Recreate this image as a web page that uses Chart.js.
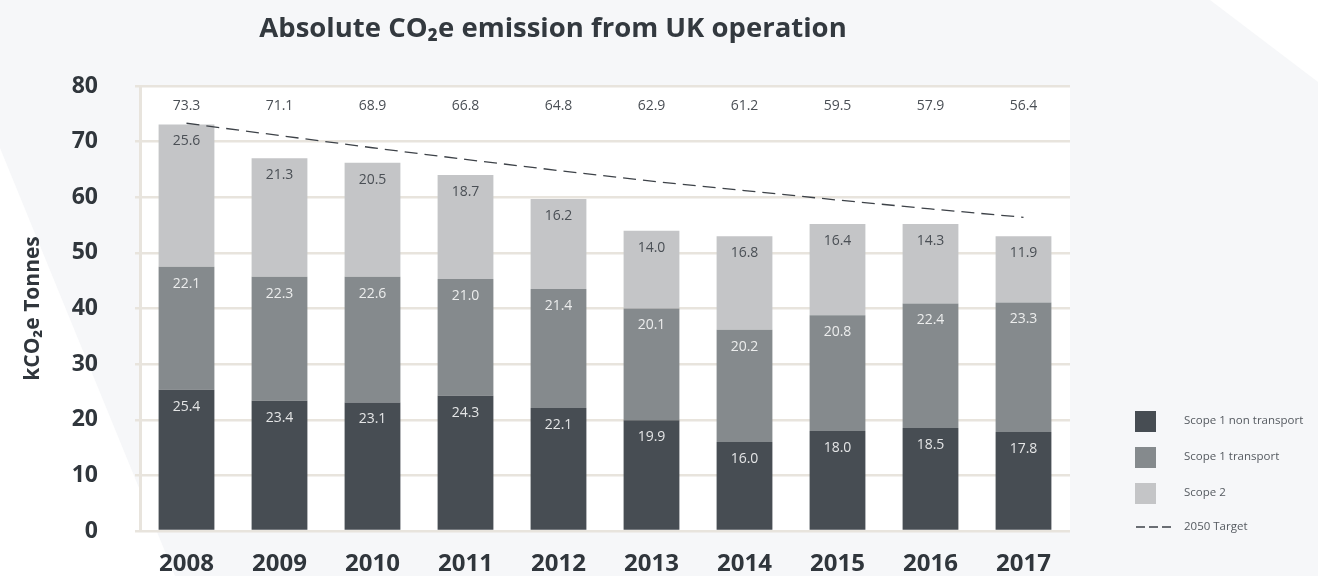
<!DOCTYPE html>
<html>
<head>
<meta charset="utf-8">
<script src="https://cdn.jsdelivr.net/npm/chart.js@4.4.1/dist/chart.umd.min.js"></script>
<style>
  html, body { margin: 0; padding: 0; background: #f6f7f9; overflow: hidden; }
  canvas { display: block; }
</style>
</head>
<body>
<canvas id="chart" width="1318" height="576"></canvas>
<script>
const years = ["2008", "2009", "2010", "2011", "2012", "2013", "2014", "2015", "2016", "2017"];
const nonTransport = [25.4, 23.4, 23.1, 24.3, 22.1, 19.9, 16.0, 18.0, 18.5, 17.8];
const transport = [22.1, 22.3, 22.6, 21.0, 21.4, 20.1, 20.2, 20.8, 22.4, 23.3];
const scope2 = [25.6, 21.3, 20.5, 18.7, 16.2, 14.0, 16.8, 16.4, 14.3, 11.9];
const target = [73.3, 71.1, 68.9, 66.8, 64.8, 62.9, 61.2, 59.5, 57.9, 56.4];
const yTicks = [0, 10, 20, 30, 40, 50, 60, 70, 80];

const FONT = "'Open Sans', 'Noto Sans', sans-serif";
const GRID = "#e8e4dd";

// page background with the pale diagonal panels + white plot area
const backdrop = {
  id: "backdrop",
  beforeDraw(chart) {
    const { ctx, width, height, chartArea: a } = chart;
    ctx.save();
    ctx.fillStyle = "#f6f7f9";
    ctx.fillRect(0, 0, width, height);
    ctx.fillStyle = "#ffffff";
    ctx.beginPath();
    ctx.moveTo(0, 148);
    ctx.lineTo(175, height);
    ctx.lineTo(0, height);
    ctx.closePath();
    ctx.fill();
    ctx.beginPath();
    ctx.moveTo(1210, 0);
    ctx.lineTo(width, 0);
    ctx.lineTo(width, 82);
    ctx.closePath();
    ctx.fill();
    ctx.fillRect(a.left, a.top, a.right - a.left, a.bottom - a.top);
    ctx.restore();
  },
};

// title, value labels and legend
const annotate = {
  id: "annotate",
  afterDatasetsDraw(chart) {
    const { ctx, chartArea: a } = chart;
    ctx.save();
    ctx.textAlign = "center";
    ctx.textBaseline = "middle";
    ctx.font = "14px " + FONT;
    chart.data.datasets.forEach((ds, i) => {
      const meta = chart.getDatasetMeta(i);
      if (ds.type === "line") {
        ctx.fillStyle = "#4a4f55";
        meta.data.forEach((pt, j) => {
          ctx.fillText(ds.data[j].toFixed(1), pt.x, a.top + 20);
        });
        return;
      }
      ctx.fillStyle = ds.labelColor;
      meta.data.forEach((bar, j) => {
        ctx.fillText(ds.data[j].toFixed(1), bar.x, bar.y + 17);
      });
    });
    ctx.restore();
  },
  afterDraw(chart) {
    const { ctx, chartArea: a } = chart;
    ctx.save();

    // title
    ctx.fillStyle = "#33393f";
    ctx.textAlign = "center";
    ctx.textBaseline = "middle";
    ctx.font = "bold 27.5px " + FONT;
    ctx.fillText("Absolute CO₂e emission from UK operation", 553, 29);

    // legend
    const lx = a.right + 65;
    let ly = a.bottom - 120;
    ctx.textAlign = "left";
    ctx.font = "11.5px " + FONT;
    chart.data.datasets.forEach((ds) => {
      if (ds.type === "line") {
        const y = ly + 8;
        ctx.strokeStyle = ds.borderColor;
        ctx.lineWidth = 1.3;
        ctx.setLineDash([9, 4]);
        ctx.beginPath();
        ctx.moveTo(lx + 1, y);
        ctx.lineTo(lx + 36, y);
        ctx.stroke();
        ctx.setLineDash([]);
        ctx.fillStyle = "#555a60";
        ctx.fillText(ds.label, lx + 49, y);
      } else {
        ctx.fillStyle = ds.backgroundColor;
        ctx.fillRect(lx, ly, 21, 21);
        ctx.fillStyle = "#555a60";
        ctx.fillText(ds.label, lx + 49, ly + 10);
        ly += 36;
      }
    });
    ctx.restore();
  },
};

new Chart(document.getElementById("chart").getContext("2d"), {
  type: "bar",
  data: {
    labels: years,
    datasets: [
      { label: "Scope 1 non transport", data: nonTransport, backgroundColor: "#474d53", labelColor: "#e4e5e6", order: 1 },
      { label: "Scope 1 transport", data: transport, backgroundColor: "#858a8d", labelColor: "#eceded", order: 1 },
      { label: "Scope 2", data: scope2, backgroundColor: "#c4c5c7", labelColor: "#4a4f55", order: 1 },
      {
        label: "2050 Target",
        type: "line",
        data: target,
        borderColor: "#3d4248",
        borderWidth: 1.3,
        borderDash: [13, 7],
        pointRadius: 0,
        fill: false,
        order: 0,
      },
    ],
  },
  options: {
    responsive: false,
    animation: false,
    datasets: { bar: { categoryPercentage: 1, barPercentage: 0.6 } },
    layout: { padding: { top: 86, right: 248, bottom: 0, left: 0 } },
    plugins: { legend: { display: false }, title: { display: false }, tooltip: { enabled: false } },
    scales: {
      x: {
        stacked: true,
        grid: { display: false },
        border: { display: false },
        ticks: { color: "#30363c", font: { family: FONT, size: 24, weight: "bold" }, padding: 11, maxRotation: 0 },
        afterFit: (s) => { s.height = 45; },
      },
      y: {
        stacked: true,
        min: 0,
        max: 80,
        afterBuildTicks: (s) => { s.ticks = yTicks.map((v) => ({ value: v })); },
        afterFit: (s) => {
          s.width = 140;
          // tick padding would otherwise push the plot bottom up
          s.paddingTop = 14;
          s.paddingBottom = 14;
        },
        grid: { color: GRID, lineWidth: 2.5, tickLength: 5 },
        border: { display: true, color: GRID, width: 3 },
        ticks: { color: "#30363c", font: { family: FONT, size: 23, weight: "bold" }, padding: 37 },
        title: {
          display: true,
          text: "kCO₂e Tonnes",
          color: "#30363c",
          font: { family: FONT, size: 21, weight: "bold" },
          padding: { top: 20, bottom: 0 },
        },
      },
    },
  },
  plugins: [backdrop, annotate],
});
</script>
</body>
</html>
